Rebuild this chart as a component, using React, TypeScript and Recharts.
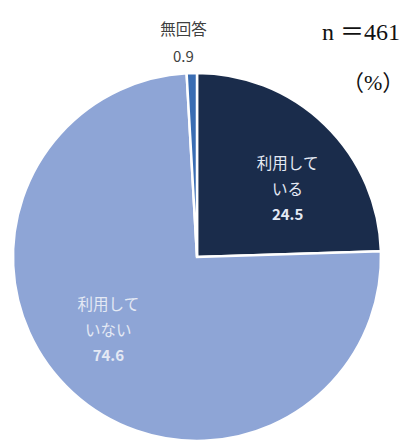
import React from "react";
import { PieChart, Pie, Cell } from "recharts";

const categories = ["利用している", "利用していない", "無回答"];
const labelLines = [["利用して", "いる"], ["利用して", "いない"], ["無回答"]];
const values = [24.5, 74.6, 0.9];
const colors = ["#1a2c4b", "#8ea5d6", "#3a6db3"];
const sampleNote = "n ＝461";
const unitNote = "（%）";

const data = categories.map((name, i) => ({ name, value: values[i] }));

const RAD = Math.PI / 180;
const JP = "'Noto Sans CJK JP', 'Noto Sans', sans-serif";

const renderLabel = (props: any) => {
  const { cx, cy, midAngle, outerRadius, index, value, percent } = props;
  const lines = labelLines[index];
  if (percent < 0.05) {
    const r = outerRadius + 31;
    const a = (midAngle + 2) * RAD;
    const x = cx + r * Math.cos(a);
    const y = cy - r * Math.sin(a);
    return (
      <g>
        <text x={x} y={y - 14} textAnchor="middle" dominantBaseline="central" fill="#404040" fontSize={15.5} fontFamily={JP}>
          {lines[0]}
        </text>
        <text x={x} y={y + 13} textAnchor="middle" dominantBaseline="central" fill="#404040" fontSize={15} fontFamily={JP}>
          {value.toFixed(1)}
        </text>
      </g>
    );
  }
  const r = outerRadius * 0.62;
  const a = (midAngle - 8.5) * RAD;
  const x = cx + r * Math.cos(a);
  const y = cy - r * Math.sin(a);
  return (
    <g>
      <text x={x} y={y - 26} textAnchor="middle" dominantBaseline="central" fill="#e4e9f4" fontSize={15.5} fontFamily={JP}>
        {lines[0]}
      </text>
      <text x={x} y={y} textAnchor="middle" dominantBaseline="central" fill="#e4e9f4" fontSize={15.5} fontFamily={JP}>
        {lines[1]}
      </text>
      <text x={x} y={y + 26} textAnchor="middle" dominantBaseline="central" fill="#e4e9f4" fontSize={15} fontWeight="bold" fontFamily={JP}>
        {value.toFixed(1)}
      </text>
    </g>
  );
};

export default function App() {
  return (
    <div style={{ position: "absolute", left: 0, top: 0, width: 408, height: 445, background: "#ffffff" }}>
      <PieChart width={408} height={445} margin={{ top: 0, right: 0, bottom: 0, left: 0 }}>
        <Pie
          data={data}
          dataKey="value"
          nameKey="name"
          cx={197}
          cy={257}
          outerRadius={184}
          startAngle={90}
          endAngle={-270}
          stroke="#ffffff"
          strokeWidth={2.5}
          label={renderLabel}
          labelLine={false}
          isAnimationActive={false}
        >
          {data.map((d, i) => (
            <Cell key={d.name} fill={colors[i]} />
          ))}
        </Pie>
      </PieChart>
      <div
        style={{
          position: "absolute",
          right: 8,
          top: 12,
          fontFamily: "'Liberation Serif', 'DejaVu Serif', 'Noto Sans CJK JP', serif",
          fontSize: 24,
          color: "#111",
          whiteSpace: "nowrap",
        }}
      >
        {sampleNote}
      </div>
      <div
        style={{
          position: "absolute",
          left: 342,
          top: 64,
          fontFamily: "'Liberation Serif', 'Noto Sans CJK JP', serif",
          fontSize: 22,
          color: "#111",
          whiteSpace: "nowrap",
        }}
      >
        {unitNote}
      </div>
    </div>
  );
}
